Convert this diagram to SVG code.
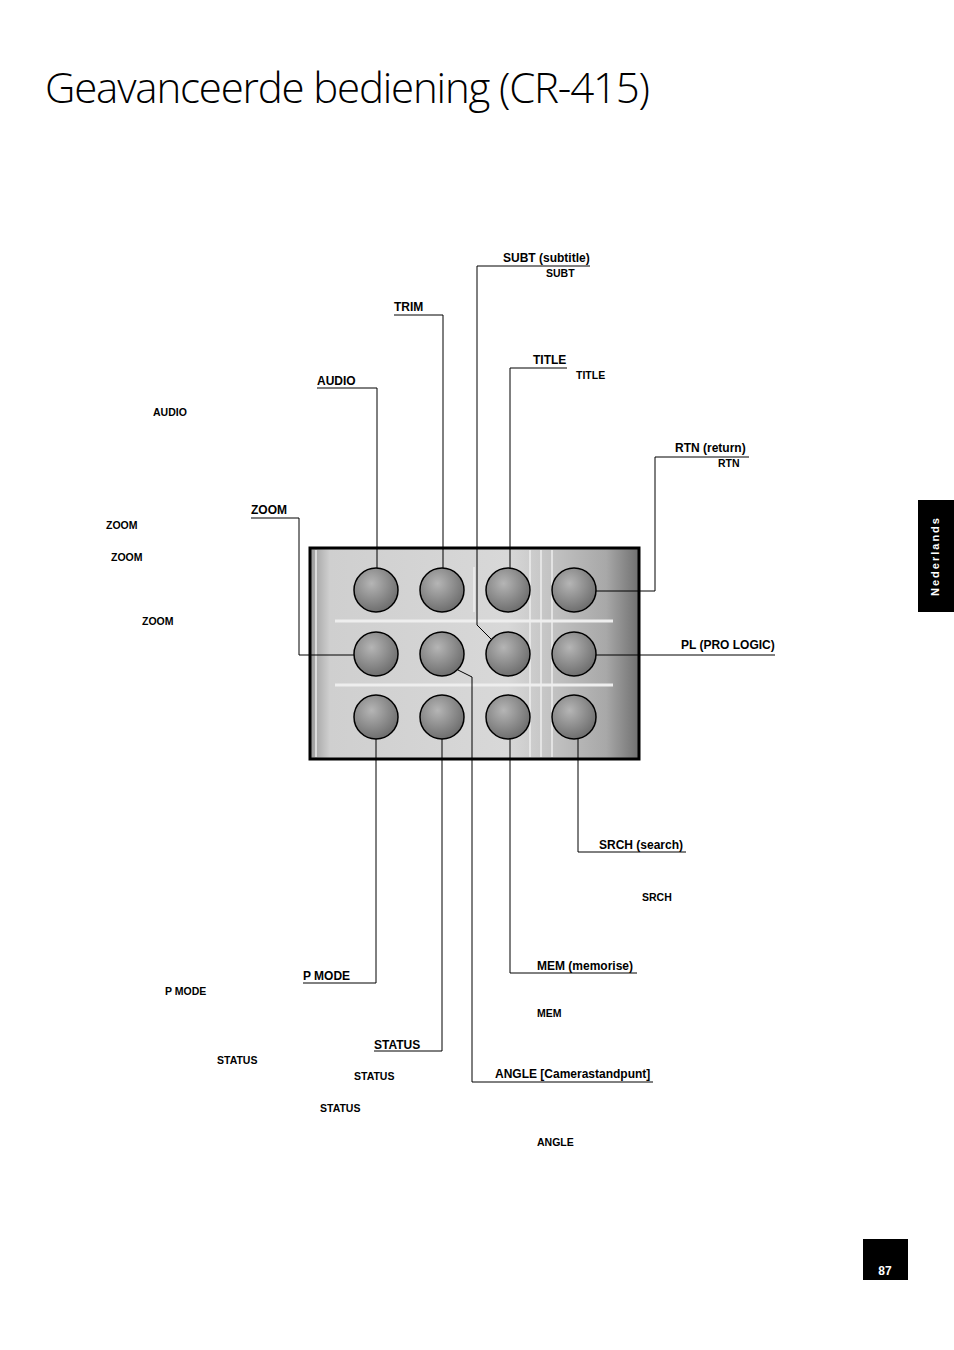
<svg xmlns="http://www.w3.org/2000/svg" width="954" height="1350" viewBox="0 0 954 1350">
<defs>
<linearGradient id="pg" x1="0" x2="1" y1="0" y2="0">
<stop offset="0" stop-color="#9a9a9a"/><stop offset="0.06" stop-color="#cfcfcf"/><stop offset="0.6" stop-color="#d8d8d8"/><stop offset="0.9" stop-color="#a8a8a8"/><stop offset="1" stop-color="#707070"/>
</linearGradient>
<radialGradient id="bg" cx="0.4" cy="0.35" r="0.7">
<stop offset="0" stop-color="#b5b5b5"/><stop offset="1" stop-color="#6a6a6a"/>
</radialGradient>
<style>
.l{font-family:"Liberation Sans",Arial,sans-serif;font-weight:bold;font-size:12px;fill:#000}
.s{font-family:"Liberation Sans",Arial,sans-serif;font-weight:bold;font-size:10.5px;fill:#000}
.c{fill:none;stroke:#000;stroke-width:1}
.b{fill:url(#bg);stroke:#000;stroke-width:1.5}
.w{stroke:#eee;stroke-width:1.5}
</style>
</defs>
<rect width="954" height="1350" fill="#fff"/>
<text x="45" y="103" font-family="Open Sans, sans-serif" font-weight="300" font-size="42" textLength="605">Geavanceerde bediening (CR-415)</text>
<g id="panel">
<rect x="310" y="548" width="329" height="211" fill="url(#pg)" stroke="#000" stroke-width="3"/>
<line class="w" x1="316" y1="550" x2="316" y2="757"/>
<line class="w" x1="530" y1="550" x2="530" y2="757"/>
<line class="w" x1="541" y1="550" x2="541" y2="757"/>
<line class="w" x1="552" y1="550" x2="552" y2="757"/>
<line class="w" x1="474" y1="567" x2="474" y2="612"/>
<line x1="335" y1="621" x2="613" y2="621" stroke="#eee" stroke-width="3"/>
<line x1="335" y1="685" x2="613" y2="685" stroke="#eee" stroke-width="3"/>
<g id="buttons">
<circle class="b" cx="376" cy="590" r="22"/><circle class="b" cx="442" cy="590" r="22"/><circle class="b" cx="508" cy="590" r="22"/><circle class="b" cx="574" cy="590" r="22"/>
<circle class="b" cx="376" cy="654" r="22"/><circle class="b" cx="442" cy="654" r="22"/><circle class="b" cx="508" cy="654" r="22"/><circle class="b" cx="574" cy="654" r="22"/>
<circle class="b" cx="376" cy="717" r="22"/><circle class="b" cx="442" cy="717" r="22"/><circle class="b" cx="508" cy="717" r="22"/><circle class="b" cx="574" cy="717" r="22"/>
</g>
</g>
<g id="connectors">
<polyline class="c" points="590,266 477,266 477,625 492,640"/>
<polyline class="c" points="394,315 443,315 443,568"/>
<polyline class="c" points="567,368 510,368 510,568"/>
<polyline class="c" points="317,388 377,388 377,568"/>
<polyline class="c" points="749,457 655,457 655,591 596,591"/>
<polyline class="c" points="251,518 299,518 299,655 354,655"/>
<polyline class="c" points="775,655 596,655"/>
<polyline class="c" points="686,852 578,852 578,739"/>
<polyline class="c" points="637,973 510,973 510,739"/>
<polyline class="c" points="303,983 376,983 376,739"/>
<polyline class="c" points="374,1051 442,1051 442,739"/>
<polyline class="c" points="653,1082 472,1082 472,677 458,670"/>
</g>
<g id="labels">
<text class="l" x="503" y="262">SUBT (subtitle)</text>
<text class="l" x="394" y="311">TRIM</text>
<text class="l" x="533" y="364">TITLE</text>
<text class="l" x="317" y="385">AUDIO</text>
<text class="l" x="675" y="452">RTN (return)</text>
<text class="l" x="251" y="514">ZOOM</text>
<text class="l" x="681" y="649">PL (PRO LOGIC)</text>
<text class="l" x="599" y="849">SRCH (search)</text>
<text class="l" x="537" y="970">MEM (memorise)</text>
<text class="l" x="303" y="980">P MODE</text>
<text class="l" x="374" y="1049">STATUS</text>
<text class="l" x="495" y="1078">ANGLE [Camerastandpunt]</text>
<text class="s" x="546" y="277">SUBT</text>
<text class="s" x="576" y="379">TITLE</text>
<text class="s" x="153" y="416">AUDIO</text>
<text class="s" x="718" y="467">RTN</text>
<text class="s" x="106" y="529">ZOOM</text>
<text class="s" x="111" y="561">ZOOM</text>
<text class="s" x="142" y="625">ZOOM</text>
<text class="s" x="642" y="901">SRCH</text>
<text class="s" x="165" y="995">P MODE</text>
<text class="s" x="537" y="1017">MEM</text>
<text class="s" x="217" y="1064">STATUS</text>
<text class="s" x="354" y="1080">STATUS</text>
<text class="s" x="320" y="1112">STATUS</text>
<text class="s" x="537" y="1146">ANGLE</text>
</g>
<g id="tab">
<rect x="918" y="500" width="36" height="112" fill="#000"/>
<text transform="translate(936,556) rotate(-90)" text-anchor="middle" font-family="Liberation Sans, sans-serif" font-weight="bold" font-size="11" letter-spacing="2" fill="#fff" dominant-baseline="middle">Nederlands</text>
</g>
<g id="page">
<rect x="863" y="1239" width="45" height="41" fill="#000"/>
<text x="885" y="1275" text-anchor="middle" font-family="Liberation Sans, sans-serif" font-weight="bold" font-size="12" fill="#fff">87</text>
</g>
</svg>
